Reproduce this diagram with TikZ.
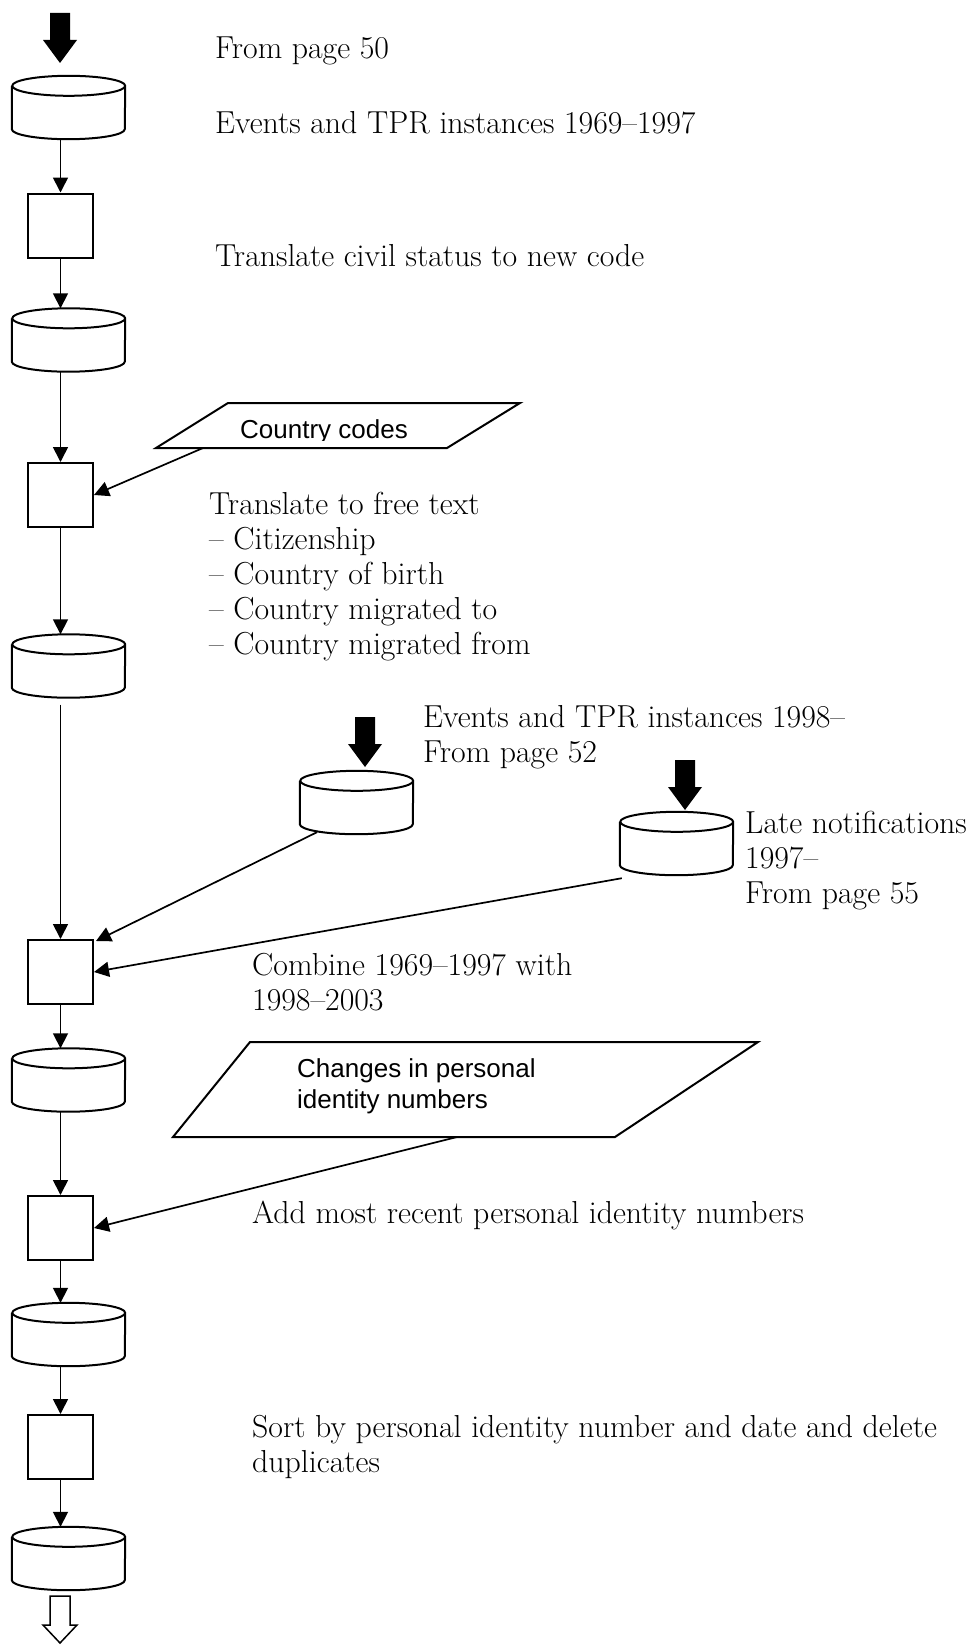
\documentclass[tikz,border=0pt]{standalone}
\usepackage{fontspec}
\setsansfont{Liberation Sans}
\usetikzlibrary{arrows.meta}
\begin{document}
\begin{tikzpicture}[x=1pt,y=-1pt,
  outline/.style={line width=2pt},
  procbox/.style={draw, line width=2pt, minimum width=65pt, minimum height=64pt, inner sep=0pt},
  store/.style={minimum width=113pt, minimum height=63pt, inner sep=0pt},
  flow/.style={line width=1.7pt, -{Triangle[length=15pt,width=15pt]}},
  % multi-line notes are anchored at the baseline of their last line
  note/.style={anchor=base west, inner sep=0pt, align=left, font=\fontsize{31.8}{35}\selectfont},
  sansnote/.style={anchor=base west, inner sep=0pt, align=left, font=\sffamily\fontsize{26}{31}\selectfont},
  pics/bigdown/.style={code={\path[pic actions] (0,0) -- (-17,-23) -- (-10,-23) -- (-10,-50) -- (10,-50) -- (10,-23) -- (17,-23) -- cycle;}},
  pics/outdown/.style={code={\path[pic actions] (0,0) -- (-17,-18) -- (-10,-18) -- (-10,-47) -- (10,-47) -- (10,-18) -- (17,-18) -- cycle;}},
]
\path[use as bounding box, fill=white] (0,0) rectangle (968,1646);

% main column: data stores and processing steps
\node[store] (c1) at (68.5,107.5) {};
\node[procbox] (b1) at (60.5,225.5) {};
\node[store] (c2) at (68.5,340) {};
\node[procbox] (b2) at (60.5,495) {};
\node[store] (c3) at (68.5,666) {};
\node[procbox] (b3) at (60.5,972) {};
\node[store] (c4) at (68.5,1080) {};
\node[procbox] (b4) at (60.5,1228) {};
\node[store] (c5) at (68.5,1334.5) {};
\node[procbox] (b5) at (60.5,1447) {};
\node[store] (c6) at (68.5,1558.5) {};
% side inputs
\node[store] (cA) at (356.5,802.5) {};
\node[store] (cB) at (676.5,843.5) {};

% cylinder outlines
\foreach \n in {c1,c2,c3,c4,c5,c6,cA,cB}{
  \draw[outline, line join=round] ([yshift=-10pt]\n.north west) -- ([yshift=10pt]\n.south west)
    arc[start angle=180, end angle=360, x radius=56.5pt, y radius=10pt]
    -- ([yshift=-10pt]\n.north east)
    arc[start angle=0, end angle=360, x radius=56.5pt, y radius=10pt];
}

% incoming and outgoing block arrows
\pic[fill=black] at (60,63) {bigdown};
\pic[fill=black] at (365,767) {bigdown};
\pic[fill=black] at (685,810) {bigdown};
\pic[draw, fill=white, line width=1.5pt] at (60,1643) {outdown};

% code tables
\draw[outline] (228,403) -- (520,403) -- (447,448) -- (156,448) -- cycle;
\coordinate (p1out) at (203,448);
\begin{scope}
  \clip (160,405) rectangle (520,440);
  \node[sansnote] (p1) at (240,438) {Country codes};
\end{scope}
\draw[outline] (250,1042) -- (758,1042) -- (615,1137) -- (173,1137) -- cycle;
\coordinate (p2out) at (457,1137);
\node[sansnote] (p2) at (297,1108) {Changes in personal\\identity numbers};

% texts
\node[note] (t0) at (215,59) {From page 50};
\node[note] (t1) at (215,133) {Events and TPR instances 1969–1997};
\node[note] (t2) at (215,266) {Translate civil status to new code};
\node[note] (t3) at (209,654) {Translate to free text\\– Citizenship\\– Country of birth\\– Country migrated to\\– Country migrated from};
\node[note] (t4) at (423,762) {Events and TPR instances 1998–\\From page 52};
\node[note] (t5) at (745,903) {Late notifications\\1997–\\From page 55};
\node[note] (t6) at (252,1010) {Combine 1969–1997 with\\1998–2003};
\node[note] (t7) at (252,1223) {Add most recent personal identity numbers};
\node[note] (t8) at (252,1472) {Sort by personal identity number and date and delete\\duplicates};

% connectors
\draw[flow] (c1.south -| b1) -- (b1.north);
\draw[flow] (b1.south) -- (b1.south |- c2.north);
\draw[flow] (c2.south -| b2) -- (b2.north);
\draw[flow] (p1out) -- (b2.east);
\draw[flow] (b2.south) -- (b2.south |- c3.north);
\draw[flow] ([yshift=-7pt]c3.south -| b3) -- (b3.north);
\draw[flow] ([xshift=-39.5pt,yshift=2pt]cA.south) -- ([shift={(2pt,-2pt)}]b3.north east);
\draw[flow] ([shift={(2pt,-3pt)}]cB.south west) -- (b3.east);
\draw[flow] (b3.south) -- (b3.south |- c4.north);
\draw[flow] (c4.south -| b4) -- (b4.north);
\draw[flow] (p2out) -- (b4.east);
\draw[flow] (b4.south) -- (b4.south |- c5.north);
\draw[flow] (c5.south -| b5) -- (b5.north);
\draw[flow] (b5.south) -- (b5.south |- c6.north);
\end{tikzpicture}
\end{document}
